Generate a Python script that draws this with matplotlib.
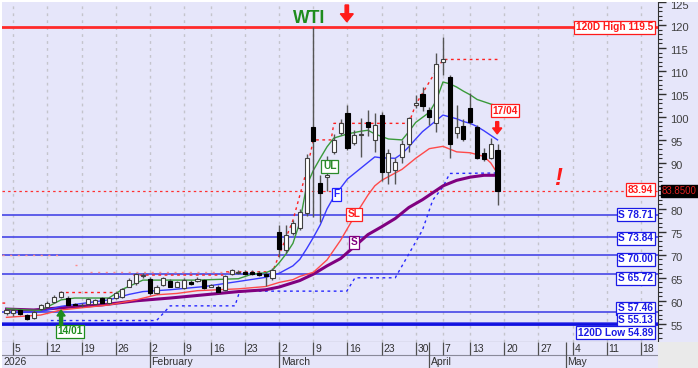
import numpy as np
import matplotlib.pyplot as plt
from matplotlib.patches import Rectangle
from matplotlib.transforms import blended_transform_factory, offset_copy, ScaledTranslation

plt.rcParams['font.family'] = ['Liberation Sans', 'DejaVu Sans']

# ---- daily candles, trading-day index 0 = 2 Jan 2026 ----
opens = [57.3, 57.4, 57.9, 56.9, 56.3, 58.2, 58.7, 59.7, 60.9, 60.7,
         59.3, 59.0, 59.3, 59.4, 60.5, 59.5, 60.6, 60.9, 63.1, 63.8,
         65.5, 64.7, 61.8, 63.4, 64.4, 63.1, 62.7, 64.1, 64.2, 64.5,
         63.1, 63.1, 62.4, 65.8, 66.0, 66.2, 66.2, 66.1, 65.8, 64.9,
         75.0, 71.1, 74.7, 75.8, 79.0, 97.9, 85.6, 87.0, 92.4, 96.4,
         100.8, 94.3, 96.0, 99.0, 95.0, 100.4, 88.1, 88.4, 91.3, 94.2,
         102.6, 105.0, 101.5, 98.6, 112.0, 108.7, 96.6, 98.0, 102.0, 97.9,
         92.2, 91.0, 92.9]
highs = [58.3, 58.3, 58.2, 57.2, 57.9, 59.4, 59.9, 61.2, 62.2, 61.0,
         59.6, 59.5, 60.6, 60.4, 60.8, 60.9, 61.9, 62.8, 64.9, 66.1,
         66.0, 65.2, 63.4, 65.2, 64.7, 64.3, 64.9, 64.5, 65.1, 64.8,
         63.7, 63.4, 65.6, 66.9, 66.6, 66.6, 66.6, 66.5, 66.2, 67.1,
         76.5, 76.5, 77.5, 80.0, 92.0, 119.5, 87.3, 91.5, 96.3, 99.6,
         102.5, 97.1, 99.7, 101.5, 100.8, 101.1, 93.0, 91.1, 95.0, 100.0,
         104.8, 106.6, 102.2, 113.8, 117.4, 109.1, 102.6, 99.5, 105.3, 98.2,
         93.3, 95.5, 94.0]
lows = [56.8, 56.6, 57.0, 55.9, 56.0, 58.0, 58.4, 59.5, 60.6, 58.9,
        58.8, 58.6, 59.0, 59.2, 59.3, 59.3, 60.4, 60.7, 62.9, 63.5,
        65.0, 61.2, 61.4, 63.2, 62.9, 62.9, 62.5, 63.4, 64.0, 62.6,
        62.9, 61.8, 62.1, 65.6, 65.8, 65.6, 65.6, 65.5, 63.3, 64.6,
        69.6, 70.5, 74.3, 75.5, 78.5, 78.2, 77.2, 83.8, 92.0, 96.0,
        92.8, 93.8, 91.3, 95.8, 92.4, 86.0, 85.5, 85.5, 89.9, 92.4,
        101.9, 101.3, 98.2, 96.8, 109.1, 91.1, 95.4, 94.8, 98.5, 90.8,
        90.5, 90.8, 80.8]
closes = [57.9, 57.9, 57.1, 56.0, 57.6, 59.1, 59.6, 60.9, 61.9, 59.1,
          59.0, 59.0, 60.3, 60.1, 59.5, 60.6, 61.6, 62.5, 64.5, 65.8,
          65.5, 61.6, 63.1, 64.9, 63.1, 64.1, 64.5, 63.6, 64.7, 62.8,
          63.4, 62.0, 65.3, 66.6, 66.3, 65.8, 65.8, 65.7, 65.5, 66.7,
          71.2, 74.3, 76.9, 79.4, 91.0, 94.8, 83.4, 87.4, 95.0, 98.6,
          93.2, 96.1, 96.3, 97.9, 98.2, 88.1, 92.1, 90.3, 94.2, 99.7,
          103.0, 102.4, 99.9, 111.5, 112.7, 94.2, 97.7, 95.3, 99.0, 91.0,
          90.8, 94.2, 83.85]
last_price = 83.85

# ---- date axis ----
week_ticks = [1, 6, 11, 16, 21, 26, 30, 35, 40, 45, 50, 55, 60, 64, 68, 73, 78, 83, 88, 93]
week_labels = ['5', '12', '19', '26', '2', '9', '16', '23', '2', '9', '16', '23', '30',
               '7', '13', '20', '27', '4', '11', '18']
month_starts = [21, 40, 62, 82]
month_labels = ['February', 'March', 'April', 'May']

# ---- indicator lines (day index, value) ----
ul_days = [0, 3, 5, 8, 10, 15, 17, 20, 28, 34, 36, 38, 39, 40, 41, 42, 43, 44, 45, 46, 47, 48,
           50, 52, 53, 54, 56, 58, 59, 60, 61, 62, 63, 64, 65, 66, 67, 68, 69, 70, 71, 72]
ul_vals = [58.3, 58.0, 57.9, 60.2, 60.6, 60.6, 62.5, 64.5, 64.5, 64.8, 65.8, 66.1, 66.7, 68.3,
           70.2, 72.5, 77.0, 85.0, 88.4, 91.0, 93.5, 95.4, 96.3, 96.9, 97.1, 96.3, 95.2, 95.0,
           96.8, 98.8, 99.9, 101.0, 103.5, 107.6, 107.2, 106.5, 105.6, 104.8, 103.8, 103.3,
           102.8, 102.4]
f_days = [0, 3, 5, 8, 12, 15, 18, 20, 24, 29, 34, 38, 40, 42, 43, 44, 45, 46, 47, 48, 50, 52,
          54, 55, 57, 58, 59, 60, 61, 62, 63, 64, 65, 66, 67, 68, 69, 70, 71, 72]
f_vals = [57.4, 57.5, 57.6, 58.8, 59.6, 60.2, 61.4, 62.0, 62.4, 63.1, 64.2, 65.1, 66.0, 67.6,
          69.0, 71.3, 73.8, 76.5, 80.0, 82.6, 86.5, 88.9, 91.3, 91.1, 91.0, 92.0, 93.5, 95.2,
          96.8, 98.0, 99.2, 100.4, 100.0, 99.6, 99.0, 98.6, 97.9, 97.0, 96.0, 95.0]
sl_days = [0, 5, 8, 15, 19, 22, 25, 28, 34, 38, 40, 42, 43, 45, 47, 49, 51, 53, 54, 55, 56,
           58, 60, 62, 64, 66, 68, 70, 71, 72]
sl_vals = [56.4, 56.9, 58.0, 59.1, 60.2, 61.3, 61.6, 62.2, 62.6, 63.1, 64.0, 64.6, 65.3, 66.2,
           68.9, 73.2, 78.3, 83.0, 85.0, 86.2, 87.0, 88.6, 91.0, 93.1, 93.6, 92.4, 92.2, 91.4,
           90.0, 87.7]
s_days = [0, 4, 9, 14, 19, 24, 29, 34, 38, 40, 43, 45, 47, 49, 51, 53, 55, 57, 59, 61, 62,
          64, 66, 68, 70, 72]
s_vals = [58.2, 58.0, 58.6, 59.1, 60.0, 60.6, 61.3, 62.0, 62.4, 63.0, 64.4, 65.8, 67.6, 69.2,
          71.8, 74.4, 76.1, 77.9, 80.3, 82.0, 83.0, 85.0, 86.2, 86.9, 87.3, 87.3]
stop_days = [6.5, 22, 24, 33.5, 34.2, 49.9, 51.1, 57, 61, 62.5, 64, 65, 72]
stop_vals = [55.7, 55.7, 58.9, 58.9, 62.1, 62.1, 65.0, 65.0, 75.4, 81.9, 84.8, 87.7, 87.8]
res_days = [-0.6, 0, np.nan, 7.8, 16.4, np.nan, 18.6, 31.8, np.nan, 32.2, 39, 42, 44, 45, 47.6,
            48, 59, 60, 64, 72]
res_vals = [59.5, 59.5, np.nan, 61.8, 61.8, np.nan, 65.6, 65.6, np.nan, 66.3, 66.3, 77.5, 88.3,
            95.0, 95.0, 98.6, 98.6, 102.7, 112.5, 112.5]
pink_days = [-0.6, 8.3, np.nan, 10, 10.3, np.nan, 12.2, 34.2]
pink_vals = [70.0, 70.0, np.nan, 67.8, 67.8, np.nan, 66.3, 66.3]

# ---- levels ----
high_120 = 119.5
low_120 = 54.89
ref_level = 83.94
support_levels = [78.71, 73.84, 70.00, 65.72, 57.46, 55.13]

# ---- layout (pixels) ----
W, H = 698, 368
LAV = '#E6E6FA'


def rect(x0, y0, x1, y1):
    return [x0 / W, 1 - y1 / H, (x1 - x0) / W, (y1 - y0) / H]


fig = plt.figure(figsize=(W / 100, H / 100), dpi=100, facecolor=LAV)
fig.patches.append(Rectangle((0, 1 - 2 / H), 1, 2 / H, transform=fig.transFigure,
                             fc='white', ec='none'))
fig.patches.append(Rectangle((0, 0), 2 / W, 1, transform=fig.transFigure, fc='white', ec='none'))
fig.patches.append(Rectangle((658 / W, 0), 40 / W, 26.3 / H, transform=fig.transFigure,
                             fc='#EAEAEA', ec='none'))

ax = fig.add_axes(rect(2, 2, 658, 341.7))
dax = fig.add_axes(rect(2, 341.7, 658, 368))
ax.set_facecolor(LAV)
dax.set_facecolor(LAV)
XL = (-0.66, 95.53)
ax.set_xlim(*XL)
ax.set_ylim(51.1, 125.0)

# weekly grid
for t in week_ticks:
    ax.axvline(t, color='#C4C4CC', lw=1, ls=(0, (2, 3)), zorder=0.5)

# horizontal levels
ax.axhline(high_120, color='#FF2A2A', lw=2, zorder=2)
for lv in support_levels:
    ax.axhline(lv, color='#4646E6', lw=1.2, zorder=2)
ax.axhline(low_120, color='#1010E0', lw=2, zorder=2)
ax.axhline(ref_level, color='#FF3030', lw=0.9, ls=(0, (2, 2.5)), zorder=2)

# indicators
ax.plot(stop_days, stop_vals, color='#2828FF', lw=1, ls=(0, (2, 2.5)), zorder=3)
ax.plot(res_days, res_vals, color='#FF2020', lw=1, ls=(0, (2, 2.5)), zorder=3)
ax.plot(pink_days, pink_vals, color='#FF8C8C', lw=1, ls=(0, (1.5, 4)), zorder=2.5)
ax.plot(s_days, s_vals, color='#800080', lw=2.2, zorder=3)
ax.plot(sl_days, sl_vals, color='#FF4A4A', lw=1, zorder=3)
ax.plot(f_days, f_vals, color='#3A3AFF', lw=1, zorder=3)
ax.plot(ul_days, ul_vals, color='#3A9A3A', lw=1, zorder=3)

# candles
o = np.array(opens)
c = np.array(closes)
x = np.arange(len(o))
up = c >= o
bottom = np.minimum(o, c)
height = np.maximum(np.abs(c - o), 0.18)
ax.vlines(x, lows, highs, color='#555555', lw=1, zorder=4)
ax.bar(x[up], height[up], 0.6, bottom[up], facecolor='white', edgecolor='#404040',
       lw=0.8, zorder=5)
ax.bar(x[~up], height[~up], 0.6, bottom[~up], facecolor='black', edgecolor='black',
       lw=0.8, zorder=5)

# right axis (85 sits under the last-price box)
ax.yaxis.tick_right()
yt = np.arange(55, 126, 5)
ax.set_yticks(yt)
ax.set_yticklabels(['' if v == 85 else str(v) for v in yt])
ax.set_yticks(np.arange(52, 126, 1), minor=True)
ax.tick_params(axis='y', which='major', length=6, width=1, color='#303030',
               labelsize=8, labelcolor='#404040', pad=3)
ax.tick_params(axis='y', which='minor', length=3, width=0.8, color='#303030')
shift = ScaledTranslation(0, -2.5 / 100, fig.dpi_scale_trans)
for lab in ax.get_yticklabels():
    lab.set_transform(lab.get_transform() + shift)
ax.set_xticks([])
for s in ['top', 'left']:
    ax.spines[s].set_visible(False)
ax.spines['right'].set_color('#303030')
ax.spines['bottom'].set_color('#505050')

# level labels on the right
tr = blended_transform_factory(ax.transAxes, ax.transData)
xr = (653 - 2) / 656
lab_texts = ['120D High %.1f' % high_120] + ['S %.2f' % v for v in support_levels] + \
            ['120D Low %.2f' % low_120, '%.2f' % ref_level]
lab_vals = [high_120] + support_levels + [low_120, ref_level]
lab_cols = ['#FF1A1A'] + ['#1A1AE6'] * 7 + ['#FF1A1A']
lab_dy = [0, 0, 1, 4.4, 3.8, -4.2, -3.2, 8.4, -1]
for t, v, col, dy in zip(lab_texts, lab_vals, lab_cols, lab_dy):
    ax.text(xr, v, t, transform=offset_copy(tr, fig=fig, x=0, y=-dy, units='dots'),
            ha='right', va='center', fontsize=7.3, fontweight='bold', color=col, zorder=9,
            bbox=dict(boxstyle='square,pad=0.15', fc='white', ec=col, lw=0.9))

fig.text(679.5 / W, 1 - 191.3 / H, '%.4f' % last_price, ha='center', va='center',
         fontsize=7, color='#E02020',
         bbox=dict(boxstyle='square,pad=0.12', fc='black', ec='black'))

# line labels
for t, xi, v, col in [('UL', 47.4, 89.3, '#2A8A2A'), ('F', 48.4, 83.2, '#2020FF'),
                      ('SL', 51.0, 78.84, '#FF2020'), ('S', 51.0, 72.7, '#800080')]:
    ax.text(xi, v, t, ha='center', va='center', fontsize=7.3, fontweight='bold', color=col,
            zorder=9, bbox=dict(boxstyle='square,pad=0.15', fc='white', ec=col, lw=0.9))

ax.text(73.1, 101.3, '17/04', ha='center', va='center', fontsize=7.3, fontweight='bold',
        color='#FF1A1A', zorder=9,
        bbox=dict(boxstyle='square,pad=0.15', fc='white', ec='#FF1A1A', lw=0.9))
ax.text(9.3, 53.4, '14/01', ha='center', va='center', fontsize=7.3, fontweight='bold',
        color='#1E8C1E', zorder=9,
        bbox=dict(boxstyle='square,pad=0.15', fc='white', ec='#1E8C1E', lw=0.9))

ax.text(44.4, 121.4, 'WTI', ha='center', va='center', fontsize=12.7, fontweight='bold',
        color='#1E8C1E', zorder=9)
ax.text(80.8, 86.7, '!', ha='center', va='center', fontsize=17, fontweight='bold',
        fontstyle='italic', color='#FF1A1A', zorder=9)

# arrows
ax.arrow(49.9, 124.35, 0, -3.65, width=0.5, head_width=1.9, head_length=1.74,
         length_includes_head=True, color='#FF1A1A', zorder=9, clip_on=False)
ax.arrow(71.95, 98.97, 0, -2.67, width=0.44, head_width=1.35, head_length=1.3,
         length_includes_head=True, color='#FF1A1A', zorder=9)
ax.arrow(8.0, 54.75, 0, 3.25, width=0.45, head_width=1.2, head_length=1.3,
         length_includes_head=True, color='#1E8C1E', zorder=9)

# date axis
dax.set_xlim(*XL)
dax.set_ylim(26.3, 0)
dax.set_xticks([])
dax.set_yticks([])
for s in dax.spines.values():
    s.set_visible(False)
dax.axhline(13.3, color='#8A8A9A', lw=0.8)
dax.vlines(week_ticks, 0, 13.3, color='#505050', lw=0.9)
dax.vlines(month_starts, 0, 26.3, color='#505050', lw=0.9)
for t, lab in zip(week_ticks, week_labels):
    dax.text(t + 0.25, 6.9, lab, ha='left', va='center', fontsize=7.5, color='#303030')
for t, lab in zip(month_starts, month_labels):
    dax.text(t + 0.25, 20, lab, ha='left', va='center', fontsize=7.5, color='#303030')
dax.text(-0.45, 20, '2026', ha='left', va='center', fontsize=7.5, color='#303030')

fig.savefig('out.png', dpi=100, facecolor=fig.get_facecolor())
